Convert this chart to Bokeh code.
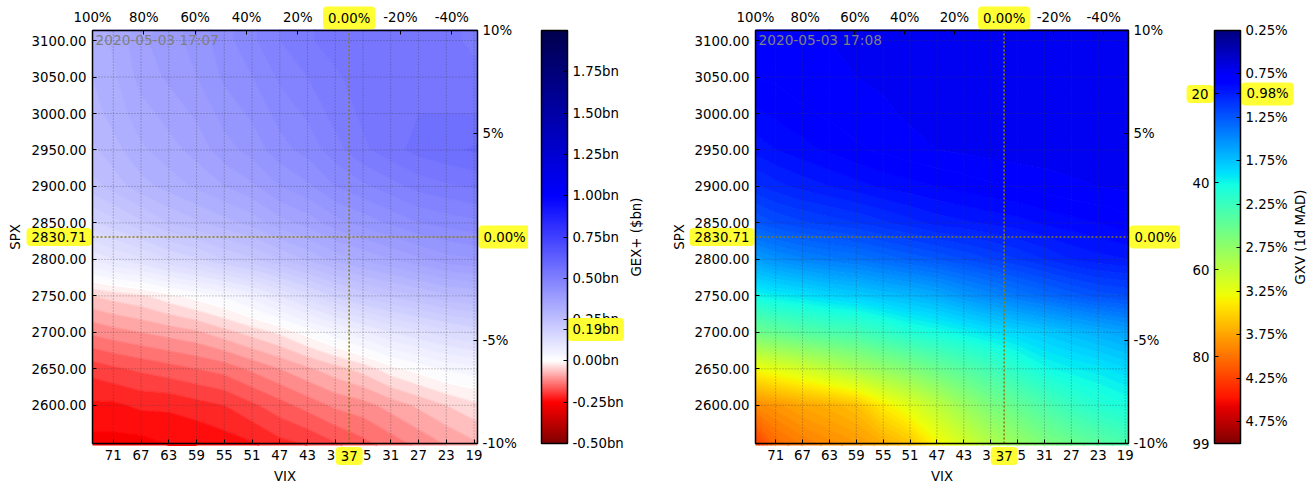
import numpy as np
from bokeh.plotting import figure
from bokeh.layouts import row
from bokeh.models import (Range1d, FixedTicker, LinearAxis, Label, PrintfTickFormatter)
from bokeh.embed import file_html
from bokeh.resources import INLINE

# ---------------- data ----------------
VIX_NOW = 37.0
SPX_NOW = 2830.71
GEX_NOW = 0.19          # $bn at crosshair
GXV_NOW = 0.98          # % at crosshair
GXV_PCTL_NOW = "20"
TIMESTAMPS = ["2020-05-03 17:07", "2020-05-03 17:08"]

VIX_TICKS = [71, 67, 63, 59, 55, 51, 47, 43, 39, 35, 31, 27, 23, 19]
SPX_TICKS = [2600, 2650, 2700, 2750, 2800, 2850, 2900, 2950, 3000, 3050, 3100]
VIX_PCT_TICKS = [100, 80, 60, 40, 20, -20, -40]
SPX_PCT_TICKS = [10, 5, -5, -10]

# sample grid (columns: VIX, left->right ; rows: SPX, top->bottom)
GRID_VIX = [74, 71, 67, 63, 59, 55, 51, 47, 43, 39, 35, 31, 27, 23, 18.5]
GRID_SPX = [3115, 3100, 3050, 3000, 2950, 2900, 2850, 2800, 2750, 2700, 2650, 2600, 2545]

GEX = [
    [0.31, 0.33, 0.36, 0.39, 0.41, 0.44, 0.47, 0.50, 0.52, 0.54, 0.55, 0.55, 0.54, 0.53, 0.52],
    [0.31, 0.33, 0.37, 0.39, 0.41, 0.44, 0.47, 0.50, 0.52, 0.54, 0.55, 0.55, 0.54, 0.53, 0.52],
    [0.30, 0.32, 0.36, 0.38, 0.40, 0.43, 0.45, 0.48, 0.50, 0.52, 0.54, 0.55, 0.55, 0.54, 0.53],
    [0.29, 0.31, 0.34, 0.36, 0.38, 0.41, 0.43, 0.46, 0.48, 0.51, 0.53, 0.54, 0.55, 0.55, 0.55],
    [0.27, 0.29, 0.32, 0.34, 0.36, 0.39, 0.41, 0.44, 0.46, 0.49, 0.52, 0.54, 0.56, 0.57, 0.58],
    [0.24, 0.26, 0.29, 0.31, 0.33, 0.35, 0.37, 0.40, 0.42, 0.45, 0.47, 0.49, 0.51, 0.52, 0.53],
    [0.17, 0.19, 0.22, 0.25, 0.27, 0.29, 0.31, 0.34, 0.36, 0.39, 0.41, 0.43, 0.45, 0.46, 0.47],
    [0.08, 0.10, 0.12, 0.15, 0.17, 0.20, 0.22, 0.25, 0.28, 0.31, 0.33, 0.35, 0.37, 0.39, 0.40],
    [-0.05, -0.04, -0.03, -0.01, 0.01, 0.03, 0.06, 0.10, 0.14, 0.18, 0.21, 0.23, 0.25, 0.27, 0.28],
    [-0.12, -0.11, -0.10, -0.09, -0.08, -0.06, -0.04, -0.02, 0.01, 0.04, 0.07, 0.10, 0.12, 0.14, 0.16],
    [-0.19, -0.18, -0.17, -0.16, -0.15, -0.14, -0.12, -0.10, -0.08, -0.06, -0.04, -0.01, 0.01, 0.03, 0.04],
    [-0.23, -0.23, -0.22, -0.22, -0.21, -0.20, -0.18, -0.16, -0.14, -0.12, -0.11, -0.09, -0.07, -0.05, -0.03],
    [-0.26, -0.26, -0.26, -0.25, -0.25, -0.24, -0.23, -0.21, -0.20, -0.18, -0.16, -0.14, -0.12, -0.10, -0.08],
]

GXV = [
    [0.76, 0.76, 0.75, 0.75, 0.74, 0.74, 0.73, 0.73, 0.73, 0.73, 0.73, 0.73, 0.73, 0.73, 0.73],
    [0.77, 0.76, 0.76, 0.75, 0.74, 0.74, 0.73, 0.73, 0.73, 0.73, 0.73, 0.73, 0.73, 0.73, 0.73],
    [0.80, 0.79, 0.77, 0.76, 0.75, 0.74, 0.73, 0.73, 0.72, 0.72, 0.72, 0.72, 0.72, 0.72, 0.72],
    [0.86, 0.84, 0.81, 0.79, 0.77, 0.76, 0.74, 0.73, 0.72, 0.72, 0.72, 0.72, 0.72, 0.72, 0.72],
    [0.93, 0.90, 0.87, 0.84, 0.81, 0.79, 0.77, 0.75, 0.74, 0.73, 0.72, 0.72, 0.72, 0.72, 0.72],
    [1.06, 1.02, 0.98, 0.95, 0.92, 0.89, 0.87, 0.85, 0.83, 0.81, 0.80, 0.78, 0.76, 0.75, 0.74],
    [1.25, 1.20, 1.16, 1.13, 1.10, 1.06, 1.02, 0.98, 0.96, 0.94, 0.92, 0.89, 0.87, 0.85, 0.82],
    [1.58, 1.52, 1.46, 1.42, 1.39, 1.34, 1.29, 1.25, 1.20, 1.15, 1.10, 1.05, 1.00, 0.97, 0.95],
    [2.00, 1.95, 1.90, 1.84, 1.80, 1.75, 1.70, 1.64, 1.55, 1.48, 1.40, 1.34, 1.28, 1.23, 1.20],
    [2.55, 2.48, 2.40, 2.34, 2.30, 2.20, 2.10, 2.04, 1.97, 1.90, 1.84, 1.78, 1.72, 1.66, 1.60],
    [3.30, 3.22, 3.12, 3.00, 2.88, 2.76, 2.65, 2.52, 2.40, 2.28, 2.15, 2.02, 1.96, 1.92, 1.85],
    [3.88, 3.82, 3.74, 3.68, 3.60, 3.38, 3.20, 3.00, 2.80, 2.62, 2.48, 2.35, 2.22, 2.12, 2.05],
    [4.30, 4.05, 3.95, 3.88, 3.82, 3.72, 3.60, 3.35, 3.15, 2.95, 2.80, 2.65, 2.55, 2.45, 2.35],
]

GEX_RANGE = (-0.5, 2.0)
GEX_CB_TICKS = [-0.5, -0.25, 0.0, 0.25, 0.5, 0.75, 1.0, 1.25, 1.5, 1.75]
GXV_RANGE = (0.25, 5.0)
GXV_CB_TICKS = [0.25, 0.75, 1.25, 1.75, 2.25, 2.75, 3.25, 3.75, 4.25, 4.75]
PCTL_TICK_VALUES = [2.0, 3.0, 4.0, 5.0]
PCTL_TICK_LABELS = ["40", "60", "80", "99"]

# ---------------- styling / layout ----------------
FONT = "DejaVu Sans"
FS = "13.3px"
H = 483
FR_TOP, FR_BOT = 30, 443          # frame rows (px from top)
OLIVE = "#8a7d10"
HL = "#ffff33"
GRID_COLOR = "#3a3a3a"
HL_PAD = dict(left=5, right=5, top=4, bottom=4)

SEIS_POS = [0.0, 0.25, 0.5, 0.75, 1.0]
SEIS_R = [(0.5, 0, 0), (1, 0, 0), (1, 1, 1), (0, 0, 1), (0, 0, 0.3)]
JET = {
    "r": [(0, 0), (0.35, 0), (0.66, 1), (0.89, 1), (1, 0.5)],
    "g": [(0, 0), (0.125, 0), (0.375, 1), (0.64, 1), (0.91, 0), (1, 0)],
    "b": [(0, 0.5), (0.11, 1), (0.34, 1), (0.65, 0), (1, 0)],
}


def hexc(r, g, b):
    return "#%02x%02x%02x" % tuple(int(round(max(0, min(1, c)) * 255)) for c in (r, g, b))


def gex_color(v):
    t = (v + 0.5) if v < 0 else 0.5 + v / 4.0
    t = min(max(t, 0), 1)
    return hexc(*[np.interp(t, SEIS_POS, [c[i] for c in SEIS_R]) for i in range(3)])


def gxv_color(v):
    t = min(max((v - GXV_RANGE[0]) / (GXV_RANGE[1] - GXV_RANGE[0]), 0), 1)
    out = []
    for k in "rgb":
        xs, ys = zip(*JET[k])
        out.append(np.interp(t, xs, ys))
    return hexc(*out)


def ext_range(a, b, pa, pb, size):
    """range whose values a, b fall at pixels pa, pb of a canvas of given size"""
    u = (b - a) / float(pb - pa)
    return Range1d(a - pa * u, b + (size - pb) * u)


def style_axis(ax, standoff=5):
    ax.major_tick_in = 4
    ax.major_tick_out = 0
    ax.minor_tick_line_color = None
    ax.axis_line_color = None
    ax.major_tick_line_color = "black"
    ax.major_label_text_font = FONT
    ax.major_label_text_font_size = FS
    ax.major_label_text_color = "black"
    ax.major_label_standoff = standoff


def txt(p, text, **kw):
    kw.setdefault("text_color", "black")
    kw.setdefault("text_font_size", FS)
    p.add_layout(Label(text=text, text_font=FONT, **kw))


def hl(p, text, **kw):
    p.add_layout(Label(text=text, text_font=FONT, text_font_size=FS, text_color="black",
                       background_fill_color=HL, background_fill_alpha=1.0,
                       padding=HL_PAD, border_radius=4, **kw))


def base_fig(width, xr, yr):
    p = figure(width=width, height=H, output_backend="svg", toolbar_location=None,
               x_range=xr, y_range=yr, x_axis_location=None, y_axis_location=None,
               min_border=0, min_border_left=0, min_border_right=0,
               min_border_top=0, min_border_bottom=0)
    p.grid.visible = False
    p.outline_line_color = None
    p.background_fill_color = "white"
    p.border_fill_color = "white"
    return p


def heat_fig(Z, levels, color_fn, stamp, width, fx0, fx1, spx_label_x):
    x0, x1 = VIX_NOW * 2, VIX_NOW * 0.5
    y0, y1 = SPX_NOW * 0.9, SPX_NOW * 1.1
    p = base_fig(width, ext_range(x0, x1, fx0, fx1, width),
                 ext_range(y0, y1, H - FR_BOT, H - FR_TOP, H))
    p.extra_x_ranges = {"pct": ext_range((x0 / VIX_NOW - 1) * 100, (x1 / VIX_NOW - 1) * 100,
                                         fx0, fx1, width)}
    p.extra_y_ranges = {"pct": ext_range((y0 / SPX_NOW - 1) * 100, (y1 / SPX_NOW - 1) * 100,
                                         H - FR_BOT, H - FR_TOP, H)}

    xs = np.array(GRID_VIX, dtype=float)[::-1]
    ys = np.array(GRID_SPX, dtype=float)[::-1]
    z = np.array(Z, dtype=float)[::-1, ::-1]
    mids = (levels[:-1] + levels[1:]) / 2
    p.contour(x=xs, y=ys, z=z, levels=levels, fill_color=[color_fn(m) for m in mids],
              line_color=[color_fn(v) for v in levels], line_width=1.2)

    # grid lines (dotted) at the tick positions, limited to the plotting box
    p.segment(x0=VIX_TICKS, x1=VIX_TICKS, y0=y0, y1=y1, line_color=GRID_COLOR,
              line_alpha=0.5, line_dash="1 2", line_width=1)
    p.segment(x0=x0, x1=x1, y0=SPX_TICKS, y1=SPX_TICKS, line_color=GRID_COLOR,
              line_alpha=0.5, line_dash="1 2", line_width=1)
    # crosshair at the current VIX / SPX
    p.segment(x0=[VIX_NOW, x0], x1=[VIX_NOW, x1], y0=[y0, SPX_NOW], y1=[y1, SPX_NOW],
              line_color=OLIVE, line_dash="2 2", line_width=1.6)
    # frame
    p.quad(left=x0, right=x1, bottom=y0, top=y1, fill_color=None, line_color="black",
           line_width=1.5, level="overlay")

    bottom = LinearAxis(ticker=FixedTicker(ticks=VIX_TICKS), fixed_location=y0)
    style_axis(bottom, 6)
    p.add_layout(bottom, "below")
    top = LinearAxis(x_range_name="pct", ticker=FixedTicker(ticks=VIX_PCT_TICKS),
                     formatter=PrintfTickFormatter(format="%d%%"), fixed_location=y1)
    style_axis(top, 6)
    p.add_layout(top, "above")
    lft = LinearAxis(ticker=FixedTicker(ticks=SPX_TICKS),
                     formatter=PrintfTickFormatter(format="%.2f"), fixed_location=x0)
    style_axis(lft, 6)
    p.add_layout(lft, "left")
    rgt = LinearAxis(y_range_name="pct", ticker=FixedTicker(ticks=SPX_PCT_TICKS),
                     formatter=PrintfTickFormatter(format="%d%%"), fixed_location=x1)
    style_axis(rgt, 5)
    p.add_layout(rgt, "right")

    txt(p, stamp, x=x0, y=y1, x_offset=3, y_offset=-1, text_font_size="13.7px",
        text_color="#808080", text_align="left", text_baseline="top")
    txt(p, "VIX", x=(x0 + x1) / 2, y=y0, y_offset=-33, text_align="center",
        text_baseline="middle")
    txt(p, "SPX", x=x0, y=SPX_NOW, x_offset=-(fx0 - spx_label_x), angle=np.pi / 2,
        text_align="center", text_baseline="middle")

    hl(p, "0.00%", x=VIX_NOW, y=y1, y_offset=12.5, text_align="center", text_baseline="middle")
    hl(p, "%d" % VIX_NOW, x=VIX_NOW, y=y0, y_offset=-12.5, text_align="center", text_baseline="middle")
    hl(p, "%.2f" % SPX_NOW, x=x0, y=SPX_NOW, x_offset=-1, text_align="right", text_baseline="middle")
    hl(p, "0.00%", x=x1, y=SPX_NOW, x_offset=1, text_align="left", text_baseline="middle")
    return p


def cbar_fig(lo, hi, reverse, color_fn, width, cx0, cx1, ticks, hidden, fmt, title, title_dx):
    a, b = (hi, lo) if reverse else (lo, hi)
    p = base_fig(width, ext_range(0, 1, cx0, cx1, width),
                 ext_range(a, b, H - FR_BOT, H - FR_TOP, H))
    n = 300
    edges = np.linspace(lo, hi, n + 1)
    step = edges[1] - edges[0]
    mids = (edges[:-1] + edges[1:]) / 2
    cols = [color_fn(m) for m in mids]
    p.quad(left=0, right=1, bottom=edges[:-1], top=np.minimum(edges[1:] + step, hi),
           fill_color=cols, line_color=None)
    p.quad(left=0, right=1, bottom=lo, top=hi, fill_color=None, line_color="black",
           line_width=1.5, level="overlay")
    ax = LinearAxis(ticker=FixedTicker(ticks=ticks + [hidden]),
                    formatter=PrintfTickFormatter(format=fmt),
                    major_label_overrides={hidden: ""}, fixed_location=1)
    style_axis(ax, 5)
    p.add_layout(ax, "right")
    txt(p, title, x=1, y=(lo + hi) / 2, x_offset=title_dx, angle=np.pi / 2,
        text_align="center", text_baseline="middle")
    return p


gex_levels = np.arange(GEX_RANGE[0], GEX_RANGE[1] + 1e-9, 0.025)
gxv_levels = np.arange(GXV_RANGE[0], GXV_RANGE[1] + 1e-9, 0.05)

# fig widths: 528 + 130 + 522 + 132 = 1312
p1 = heat_fig(GEX, gex_levels, gex_color, TIMESTAMPS[0], 528, 92, 477, 15)
cb1 = cbar_fig(GEX_RANGE[0], GEX_RANGE[1], False, gex_color, 130, 13, 39,
               GEX_CB_TICKS, GEX_NOW, "%.2fbn", "GEX+ ($bn)", 69)
hl(cb1, "%.2fbn" % GEX_NOW, x=1, y=GEX_NOW, x_offset=0, text_align="left", text_baseline="middle")

p2 = heat_fig(GXV, gxv_levels, gxv_color, TIMESTAMPS[1], 522, 97, 470, 21)
cb2 = cbar_fig(GXV_RANGE[0], GXV_RANGE[1], True, gxv_color, 132, 34, 60,
               GXV_CB_TICKS, GXV_NOW, "%.2f%%", "GXV (1d MAD)", 60)
pl = LinearAxis(ticker=FixedTicker(ticks=PCTL_TICK_VALUES + [GXV_NOW]),
                major_label_overrides=dict(zip(PCTL_TICK_VALUES, PCTL_TICK_LABELS)) | {GXV_NOW: ""},
                fixed_location=0)
style_axis(pl, 5)
cb2.add_layout(pl, "left")
hl(cb2, GXV_PCTL_NOW, x=0, y=GXV_NOW, x_offset=-1, text_align="right", text_baseline="middle")
hl(cb2, "%.2f%%" % GXV_NOW, x=1, y=GXV_NOW, x_offset=1, text_align="left", text_baseline="middle")

layout = row(p1, cb1, p2, cb2)
open("out.html", "w").write(file_html(layout, INLINE))
